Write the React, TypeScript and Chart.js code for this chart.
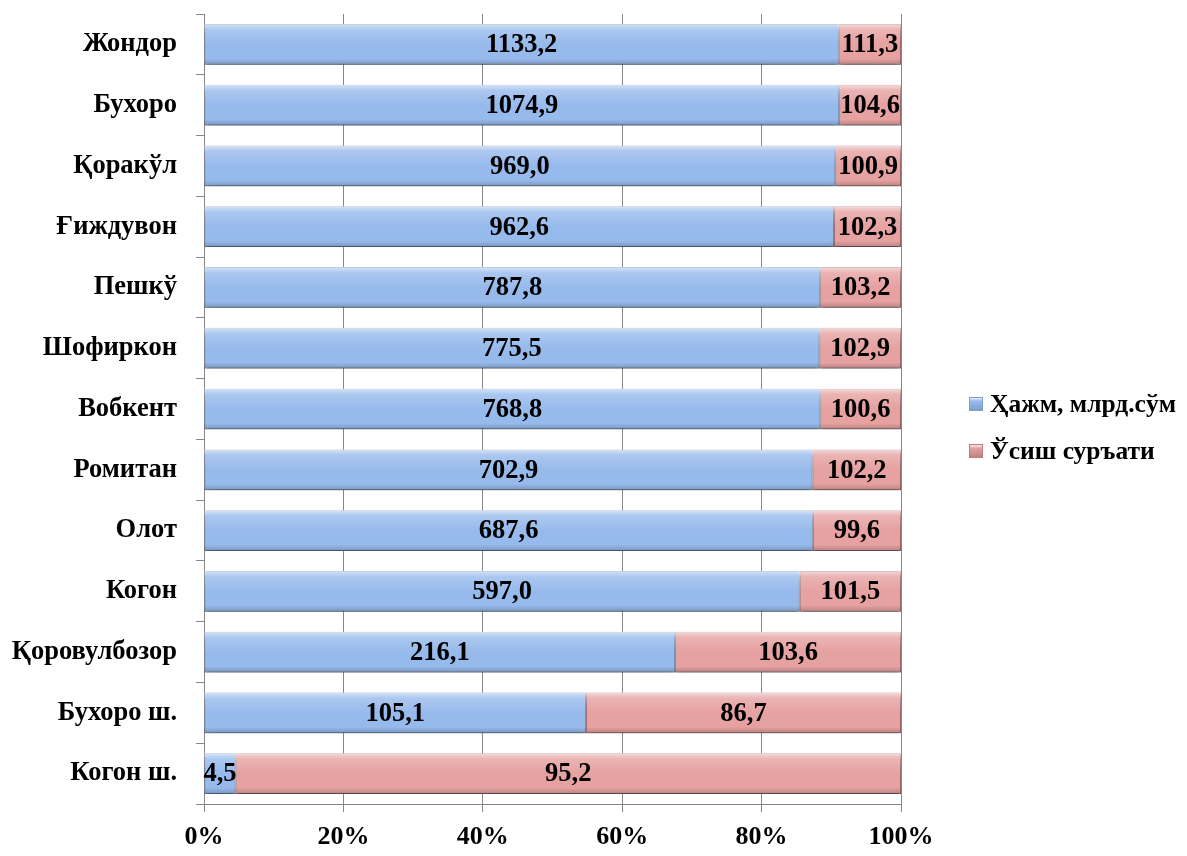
import React, { useEffect, useRef } from "react";
import { Chart, registerables } from "chart.js";

Chart.register(...registerables);

const categories = [
  "Жондор", "Бухоро", "Қоракўл", "Ғиждувон", "Пешкў", "Шофиркон", "Вобкент",
  "Ромитан", "Олот", "Когон", "Қоровулбозор", "Бухоро ш.", "Когон ш.",
];
const volumeValues = [1133.2, 1074.9, 969.0, 962.6, 787.8, 775.5, 768.8, 702.9, 687.6, 597.0, 216.1, 105.1, 4.5];
const growthValues = [111.3, 104.6, 100.9, 102.3, 103.2, 102.9, 100.6, 102.2, 99.6, 101.5, 103.6, 86.7, 95.2];
const seriesNames = ["Ҳажм, млрд.сўм", "Ўсиш суръати"];
const xTicks = [0, 20, 40, 60, 80, 100];

const FONT = '"Liberation Serif", "Times New Roman", serif';
const BLUE = "#97BAEC";
const BLUE_BORDER = "#7F9DC9";
const RED = "#E6A1A1";
const RED_BORDER = "#B97F7F";

const fmt = (v: number) => v.toFixed(1).replace(".", ",");

export default function App() {
  const ref = useRef<HTMLCanvasElement | null>(null);
  useEffect(() => {
    if (!ref.current) return;
    const rawSets = [volumeValues, growthValues];
    const totals = volumeValues.map((v, i) => v + growthValues[i]);
    const pct = (arr: number[]) => arr.map((v, i) => (v / totals[i]) * 100);

    const shadowPlugin = {
      id: "barShadow",
      beforeDatasetsDraw(chart: any) {
        const ctx = chart.ctx;
        ctx.save();
        ctx.shadowColor = "rgba(0,0,0,0.4)";
        ctx.shadowBlur = 6;
        ctx.shadowOffsetY = 4;
        ctx.shadowOffsetX = 0;
      },
      afterDatasetsDraw(chart: any) {
        const ctx = chart.ctx;
        ctx.restore();
        // bevel overlay
        chart.data.datasets.forEach((_: any, di: number) => {
          const meta = chart.getDatasetMeta(di);
          meta.data.forEach((el: any) => {
            const left = Math.min(el.x, el.base);
            const right = Math.max(el.x, el.base);
            const top = el.y - el.height / 2;
            const h = el.height;
            const w = right - left;
            ctx.save();
            const g = ctx.createLinearGradient(0, top, 0, top + h);
            g.addColorStop(0, "rgba(255,255,255,0.6)");
            g.addColorStop(0.14, "rgba(255,255,255,0.2)");
            g.addColorStop(0.5, "rgba(255,255,255,0)");
            g.addColorStop(0.85, "rgba(0,0,0,0.0)");
            g.addColorStop(1, "rgba(0,0,0,0.2)");
            ctx.fillStyle = g;
            ctx.fillRect(left, top, w, h);
            ctx.restore();
          });
        });
        // data labels
        ctx.save();
        ctx.font = `bold 26.5px ${FONT}`;
        ctx.fillStyle = "#000";
        ctx.textAlign = "center";
        ctx.textBaseline = "middle";
        chart.data.datasets.forEach((_: any, di: number) => {
          const meta = chart.getDatasetMeta(di);
          meta.data.forEach((el: any, i: number) => {
            const cx = (el.x + el.base) / 2;
            ctx.fillText(fmt(rawSets[di][i]), cx, el.y + 1);
          });
        });
        ctx.restore();
      },
    };

    const legendPlugin = {
      id: "customLegend",
      afterDraw(chart: any) {
        const ctx = chart.ctx;
        const items = [
          { name: seriesNames[0], fill: BLUE, border: BLUE_BORDER, y: 396 },
          { name: seriesNames[1], fill: RED, border: RED_BORDER, y: 443 },
        ];
        ctx.save();
        items.forEach((it) => {
          const bx = 961, by = it.y - 7;
          const g = ctx.createLinearGradient(0, by, 0, by + 14);
          g.addColorStop(0, "#fff");
          g.addColorStop(0.3, it.fill);
          g.addColorStop(1, it.border);
          ctx.fillStyle = g;
          ctx.fillRect(bx, by, 14, 14);
          ctx.strokeStyle = it.border;
          ctx.lineWidth = 1;
          ctx.strokeRect(bx + 0.5, by + 0.5, 13, 13);
          ctx.font = `bold 25.5px ${FONT}`;
          ctx.fillStyle = "#000";
          ctx.textAlign = "left";
          ctx.textBaseline = "middle";
          ctx.fillText(it.name, 982, it.y + 1);
        });
        ctx.restore();
      },
    };

    const chart = new Chart(ref.current, {
      type: "bar",
      data: {
        labels: categories,
        datasets: [
          {
            label: seriesNames[0],
            data: pct(volumeValues),
            backgroundColor: BLUE,
            borderColor: BLUE_BORDER,
            borderWidth: 1,
            borderSkipped: false,
            categoryPercentage: 1,
            barPercentage: 0.67,
          },
          {
            label: seriesNames[1],
            data: pct(growthValues),
            backgroundColor: RED,
            borderColor: RED_BORDER,
            borderWidth: 1,
            borderSkipped: false,
            categoryPercentage: 1,
            barPercentage: 0.67,
          },
        ],
      },
      options: {
        indexAxis: "y",
        animation: false,
        responsive: true,
        maintainAspectRatio: false,
        layout: { padding: { top: 6, right: 278, left: 0, bottom: 0 } },
        plugins: {
          legend: { display: false },
          tooltip: { enabled: false },
        },
        scales: {
          x: {
            stacked: true,
            min: 0,
            max: 100,
            afterBuildTicks: (s: any) => {
              s.ticks = xTicks.map((v) => ({ value: v }));
            },
            afterFit: (s: any) => {
              s.height = 44;
            },
            ticks: {
              callback: (v: any) => v + "%",
              font: { family: FONT, size: 26, weight: "bold" },
              color: "#000",
              padding: 10,
            },
            grid: { color: "#868686", lineWidth: 1, tickLength: 8 },
            border: { color: "#868686" },
          },
          y: {
            stacked: true,
            afterFit: (s: any) => {
              s.width = 196;
              s.paddingTop = 0;
              s.paddingBottom = 0;
            },
            ticks: {
              font: { family: FONT, size: 26.5, weight: "bold" },
              color: "#000",
              padding: 19,
            },
            grid: {
              drawOnChartArea: false,
              drawTicks: true,
              tickLength: 8,
              color: "#868686",
              offset: true,
            },
            border: { color: "#868686" },
          },
        },
      },
      plugins: [shadowPlugin, legendPlugin],
    });
    return () => chart.destroy();
  }, []);

  return (
    <div style={{ width: 1171, height: 840, position: "relative" }}>
      <canvas ref={ref} />
    </div>
  );
}
